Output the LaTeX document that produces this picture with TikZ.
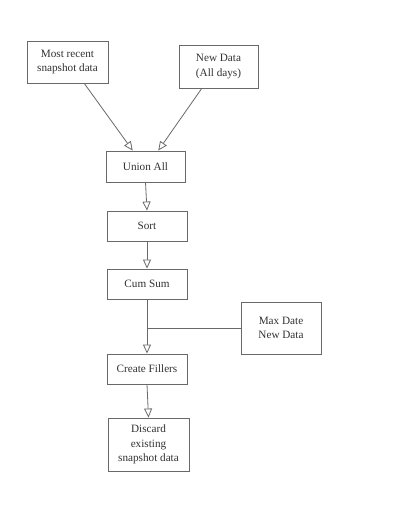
\documentclass[tikz,border=0pt]{standalone}
\usepackage{fontspec}
\setmainfont{Liberation Serif}
\usetikzlibrary{arrows.meta,calc}
\definecolor{boxline}{RGB}{105,105,105}
\definecolor{txt}{RGB}{50,50,50}
\begin{document}
\begin{tikzpicture}[x=1pt,y=-1pt,
  proc/.style={draw=boxline,line width=0.9pt,fill=white,align=center,text=txt,
    font=\fontsize{11.2}{14.2}\selectfont,inner sep=2pt,
    minimum width=#1},
  proc/.default=80pt,
  conn/.style={draw=boxline,line width=0.8pt},
  arr/.style={conn,-{Triangle[open,length=9pt,width=8pt,fill=white]}}]
\useasboundingbox[fill=white] (0,0) rectangle (403,522);
\node[proc=81pt,minimum height=42pt] (m) at (67.5,62) {Most recent\\snapshot data};
\node[proc=79pt,minimum height=43pt] (n) at (218.5,66.5) {New Data\\(All days)};
\node[proc=79pt,minimum height=31pt] (u) at (145.5,166.5) {Union All};
\node[proc,minimum height=30pt] (s) at (147,226) {Sort};
\node[proc,minimum height=30pt] (c) at (147,284) {Cum Sum};
\node[proc,minimum height=52pt] (x) at (281,328) {Max Date\\New Data};
\node[proc,minimum height=30pt] (f) at (147,369) {Create Fillers};
\node[proc=81pt,minimum height=53pt] (d) at (148.5,444.5) {Discard\\existing\\snapshot data};
\draw[arr] ($(m.south)!0.41!(m.south east)$) -- ($(u.north)!0.32!(u.north west)$);
\draw[arr] ($(n.south)!0.42!(n.south west)$) -- ($(u.north)!0.32!(u.north east)$);
\draw[arr] (u.south) -- (s.north);
\draw[arr] (s.south) -- (c.north);
\draw[arr] (c.south) -- (f.north);
\draw[conn] (x.west) -- (x.west -| c.south);
\draw[arr] (f.south) -- (d.north);
\end{tikzpicture}
\end{document}
